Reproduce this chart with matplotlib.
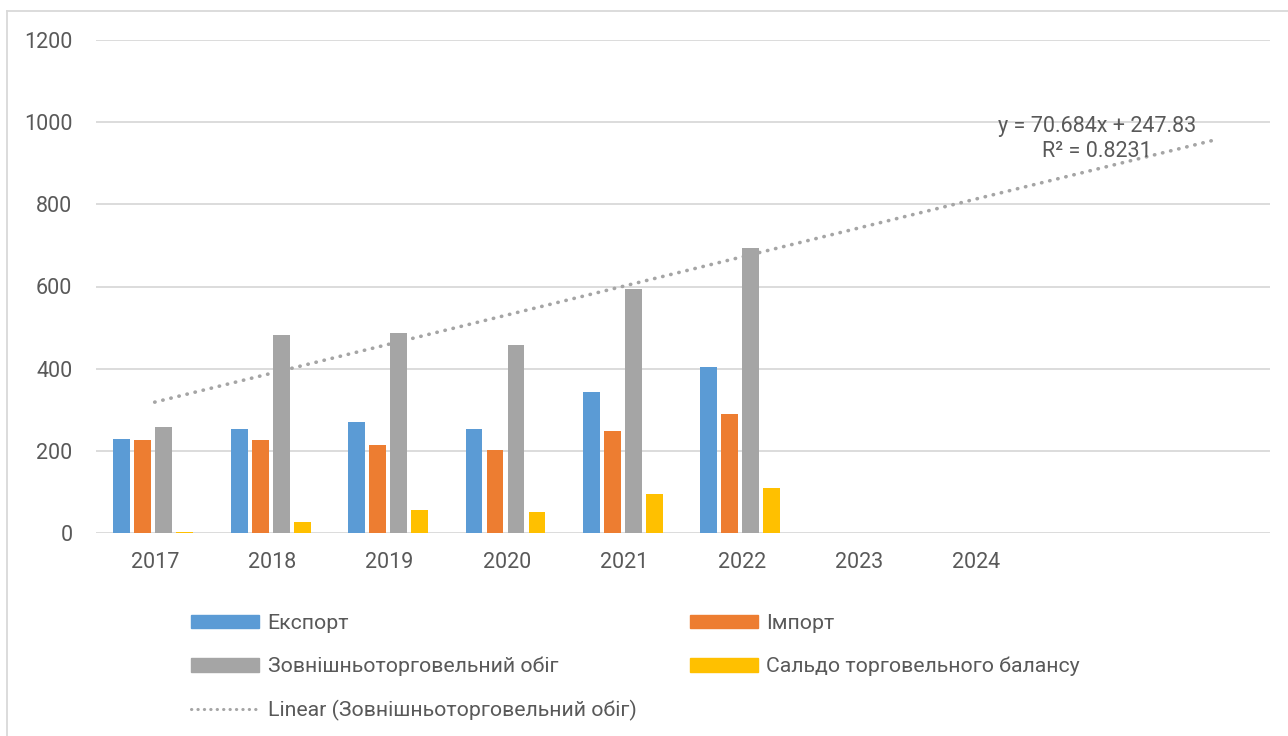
import numpy as np
import matplotlib.pyplot as plt
from matplotlib.lines import Line2D
from matplotlib.patches import Patch

plt.rcParams['font.family'] = ['Roboto', 'DejaVu Sans']

years = ['2017', '2018', '2019', '2020', '2021', '2022', '2023', '2024', '', '']
export = [229, 253, 271, 253, 344, 403]
imports = [227, 227, 213, 202, 248, 290]
turnover = [257, 482, 487, 457, 595, 693]
balance = [2, 26, 57, 51, 96, 110]
trend_slope = 70.684
trend_intercept = 247.83
trend_r2 = 0.8231

names = ['Експорт', 'Імпорт', 'Зовнішньоторговельний обіг', 'Сальдо торговельного балансу']
colors = ['#5B9BD5', '#ED7D31', '#A5A5A5', '#FFC000']
text_col = '#595959'
grid_col = '#D9D9D9'

W, H = 1288, 736
fig = plt.figure(figsize=(W / 100, H / 100), dpi=100)
ax = fig.add_axes([96 / W, 1 - 533 / H, 1174 / W, 493 / H])

x = np.arange(len(export))
slot = 0.179
bw = 0.142
for i, (vals, c, n) in enumerate(zip([export, imports, turnover, balance], colors, names)):
    ax.bar(x + (i - 1.5) * slot - 0.012, vals, width=bw, color=c, label=n, zorder=2)

# linear trend for turnover, forecast forward 4 periods
tx = np.arange(1, 11)
ax.plot(tx - 1, trend_slope * tx + trend_intercept, color='#A5A5A5', lw=2.6,
        linestyle=(0, (0.1, 2.2)), dash_capstyle='round', zorder=3)
ax.text(1097 / W, 1 - 139 / H, f'y = {trend_slope}x + {trend_intercept}\nR² = {trend_r2}',
        transform=fig.transFigure, ha='center', va='center', fontsize=15.5,
        color=text_col, linespacing=1.3)

ax.set_xlim(-0.5, len(years) - 0.5)
ax.set_ylim(0, 1200)
ax.set_yticks(np.arange(0, 1201, 200))
ax.set_xticks(np.arange(len(years)))
ax.set_xticklabels(years)
ax.grid(axis='y', color=grid_col, lw=1.3, zorder=0)
for s in ['top', 'right', 'left', 'bottom']:
    ax.spines[s].set_visible(False)
ax.tick_params(length=0, labelsize=15.5, labelcolor=text_col)
ax.tick_params(axis='y', pad=17)
ax.tick_params(axis='x', pad=14)

# legend, two columns anchored separately
h = [Patch(color=c) for c in colors]
trend_h = Line2D([], [], color='#A5A5A5', lw=2.2, linestyle=(0, (0.1, 2.0)),
                 dash_capstyle='round')
kw = dict(frameon=False, fontsize=15.3, labelcolor=text_col, handlelength=3.2,
          handleheight=0.62, handletextpad=0.4, labelspacing=1.12,
          borderpad=0, borderaxespad=0, loc='upper left')
fig.legend([h[0], h[2], trend_h], [names[0], names[2], 'Linear (Зовнішньоторговельний обіг)'],
           bbox_to_anchor=(191 / W, 1 - 614 / H), **kw)
fig.legend([h[1], h[3]], [names[1], names[3]],
           bbox_to_anchor=(690 / W, 1 - 614 / H), **kw)

# chart area border (right and bottom fall outside the picture)
fig.add_artist(Line2D([7 / W, 7 / W], [0, 1 - 11 / H], color=grid_col, lw=1.3))
fig.add_artist(Line2D([7 / W, 1], [1 - 11 / H, 1 - 11 / H], color=grid_col, lw=1.3))

fig.savefig('out.png', dpi=100, facecolor='white')
